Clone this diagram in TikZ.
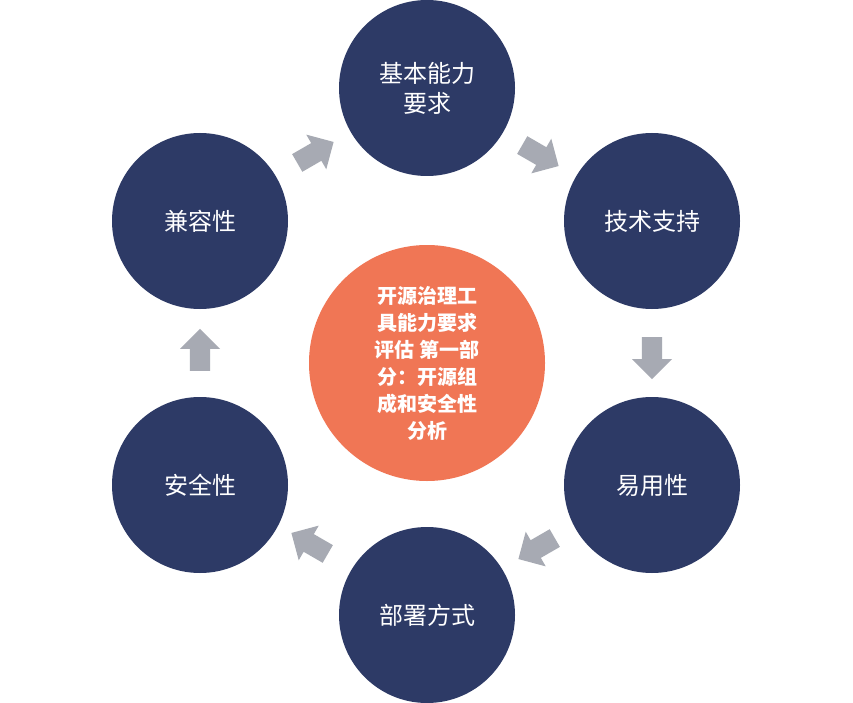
\documentclass[tikz,border=0pt]{standalone}
\usepackage{fontspec}
\setmainfont{Noto Sans CJK SC}
\usetikzlibrary{shapes.arrows}
\definecolor{navy}{HTML}{2D3A66}
\definecolor{orng}{HTML}{F07655}
\definecolor{arr}{HTML}{A7AAB3}
\begin{document}
\begin{tikzpicture}[x=1pt,y=-1pt,
  outer/.style={circle,fill=navy,minimum size=176pt,inner sep=0pt,text=white,font=\fontsize{24}{30}\selectfont,align=center},
  blk/.style={single arrow,fill=arr,minimum width=40pt,minimum height=42pt,single arrow head extend=5pt,inner sep=5pt,rotate=#1}]
\fill[white] (0,0) rectangle (853,700);
\node[outer] (a) at (427,85) {基本能力\\要求};
\node[outer] (b) at (652,218) {技术支持};
\node[outer] (c) at (652,482) {易用性};
\node[outer] (d) at (427,612) {部署方式};
\node[outer] (e) at (200,482) {安全性};
\node[outer] (f) at (200,218) {兼容性};
\node[circle,fill=orng,minimum size=236pt,inner sep=0pt,text=white,align=center,font=\fontsize{20}{27}\selectfont\bfseries] (m) at (427,360) {开源治理工\\具能力要求\\评估 第一部\\分：开源组\\成和安全性\\分析};
\node[blk=-30] (ab) at (536,150) {};
\node[blk=-90] (bc) at (652,350) {};
\node[blk=-150] (cd) at (541,543) {};
\node[blk=150] (de) at (314,543) {};
\node[blk=90] (ef) at (200,352) {};
\node[blk=30] (fa) at (311,152) {};
\end{tikzpicture}
\end{document}
